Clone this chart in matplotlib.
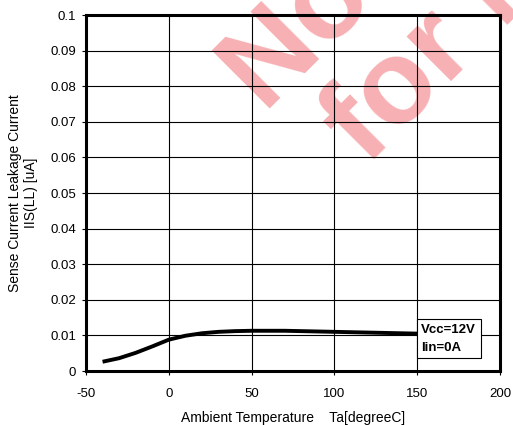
import matplotlib
matplotlib.use("Agg")
from matplotlib import pyplot as plt

plt.rcParams['font.family'] = ['Liberation Sans', 'DejaVu Sans']
plt.rcParams['axes.unicode_minus'] = False

temp = [-40, -30, -20, -10, 0, 10, 20, 30, 40, 50, 60, 70, 80, 90, 100, 110, 120, 130, 140, 150]
leak = [0.0026, 0.0036, 0.0051, 0.0069, 0.0088, 0.0099, 0.0106, 0.0110, 0.0112, 0.0113,
        0.0113, 0.0113, 0.0112, 0.0111, 0.0110, 0.0109, 0.0108, 0.0107, 0.0106, 0.0105]

xticks = [-50, 0, 50, 100, 150, 200]
yticks = [0, 0.01, 0.02, 0.03, 0.04, 0.05, 0.06, 0.07, 0.08, 0.09, 0.1]
ylabels = ['0', '0.01', '0.02', '0.03', '0.04', '0.05', '0.06', '0.07', '0.08', '0.09', '0.1']

fig = plt.figure(figsize=(5.13, 4.25), dpi=100)

# watermark, behind the axes
wm = '#f7b0b3'
fig.text(262/513, 1-108/425, 'Not', rotation=45, rotation_mode='anchor',
         ha='left', va='baseline', fontsize=86, fontweight='bold', color=wm, zorder=-1)
fig.text(366/513, 1-166/425, 'for N', rotation=45, rotation_mode='anchor',
         ha='left', va='baseline', fontsize=86, fontweight='bold', color=wm, zorder=-1)

ax = fig.add_axes([86/513, 1-371/425, 414/513, 356/425])
ax.patch.set_alpha(0)

ax.plot(temp, leak, color='black', linewidth=2.8, solid_capstyle='butt', zorder=3)

ax.set_xlim(-50, 200)
ax.set_ylim(0, 0.1)
ax.set_xticks(xticks)
ax.set_yticks(yticks)
ax.set_yticklabels(ylabels)
ax.grid(True, color='black', linewidth=0.8)
ax.tick_params(labelsize=9.5, length=3, width=0.8, direction='out', pad=4)
ax.tick_params(axis='x', pad=9)
for s in ax.spines.values():
    s.set_linewidth(2.2)

ax.set_xlabel('Ambient Temperature    Ta[degreeC]', fontsize=10, labelpad=8)
ax.set_ylabel('Sense Current Leakage Current\nIIS(LL) [uA]', fontsize=10, labelpad=9)

ax.text(152.5, 0.0091, 'Vcc=12V\nIin=0A', fontsize=9.5, fontweight='bold', va='center', ha='left',
        linespacing=1.65, zorder=4,
        bbox=dict(boxstyle='square,pad=0.35', facecolor='white', edgecolor='black', linewidth=0.8))

plt.savefig('out.png', dpi=100)
